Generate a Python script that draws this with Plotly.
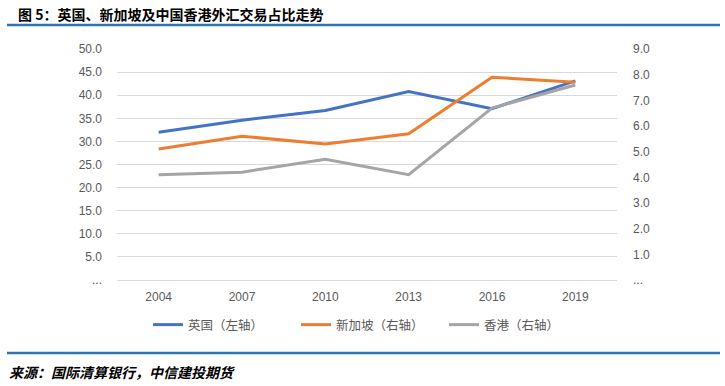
import plotly.graph_objects as go

years = ["2004", "2007", "2010", "2013", "2016", "2019"]
uk = [32.0, 34.6, 36.7, 40.8, 37.1, 43.1]          # left axis
singapore = [5.1, 5.6, 5.3, 5.7, 7.9, 7.7]         # right axis
hongkong = [4.1, 4.2, 4.7, 4.1, 6.7, 7.6]          # right axis

series_names = ["英国（左轴）", "新加坡（右轴）", "香港（右轴）"]

left_ticks = [0, 5, 10, 15, 20, 25, 30, 35, 40, 45, 50]
left_text = ["..."] + [f"{v:.1f}" for v in left_ticks[1:]]
right_ticks = [0, 1, 2, 3, 4, 5, 6, 7, 8, 9]
right_text = ["..."] + [f"{v:.1f}" for v in right_ticks[1:]]

W, H = 725, 386
L, R, T, B = 117, 108, 49, 106
ph = H - T - B

def py(y):
    return (H - B - y) / ph

def px(x):
    return (x - L) / (W - L - R)

fig = go.Figure()
fig.add_trace(go.Scatter(x=years, y=uk, name=series_names[0], mode="lines",
                         line=dict(color="#4472C4", width=3), yaxis="y"))
fig.add_trace(go.Scatter(x=years, y=singapore, name=series_names[1], mode="lines",
                         line=dict(color="#ED7D31", width=3), yaxis="y2"))
fig.add_trace(go.Scatter(x=years, y=hongkong, name=series_names[2], mode="lines",
                         line=dict(color="#A5A5A5", width=3), yaxis="y2"))

font_cjk = "Noto Sans CJK SC, Liberation Sans, sans-serif"
tick_font = dict(family="Liberation Sans, Noto Sans CJK SC, sans-serif", size=12, color="#595959")

fig.update_layout(
    width=W, height=H,
    margin=dict(l=L, r=R, t=T, b=B),
    paper_bgcolor="white", plot_bgcolor="white",
    showlegend=True,
    legend=dict(orientation="h", x=px(148), xanchor="left", y=py(325), yanchor="middle",
                font=dict(family=font_cjk, size=12.5, color="#595959"),
                entrywidth=103, itemwidth=30, bgcolor="rgba(0,0,0,0)"),
    xaxis=dict(type="category", range=[-0.5, 5.5], showgrid=False, zeroline=False, showline=True,
               linecolor="#D9D9D9", linewidth=1, tickfont=tick_font, ticks="",
               ticklabelstandoff=6),
    yaxis=dict(range=[0, 50], tickvals=left_ticks, ticktext=left_text,
               showgrid=True, gridcolor="#D9D9D9", gridwidth=1, zeroline=False,
               showline=False, tickfont=tick_font, ticks="", ticklabelstandoff=14),
    yaxis2=dict(range=[0, 9], tickvals=right_ticks, ticktext=right_text,
                overlaying="y", side="right", showgrid=False, zeroline=False,
                showline=False, tickfont=tick_font, ticks="", ticklabelstandoff=15),
    shapes=[
        dict(type="line", xref="paper", yref="paper", x0=px(7), x1=px(720),
             y0=py(25), y1=py(25), line=dict(color="#2E75B6", width=2.5)),
        dict(type="line", xref="paper", yref="paper", x0=px(7), x1=px(720),
             y0=py(353), y1=py(353), line=dict(color="#2E75B6", width=2.5)),
    ],
    annotations=[
        dict(text="<b>图 5：英国、新加坡及中国香港外汇交易占比走势</b>", xref="paper", yref="paper",
             x=px(16), y=py(14), xanchor="left", yanchor="middle", showarrow=False,
             font=dict(family=font_cjk, size=14, color="#000000")),
        dict(text="<b><i>来源：国际清算银行，中信建投期货</i></b>", xref="paper", yref="paper",
             x=px(7), y=py(372), xanchor="left", yanchor="middle", showarrow=False,
             font=dict(family=font_cjk, size=14, color="#000000")),
    ],
)

fig.write_html("out.html", config={"displayModeBar": False},
               post_script="document.body.style.margin='0px';document.body.style.padding='0px';")
